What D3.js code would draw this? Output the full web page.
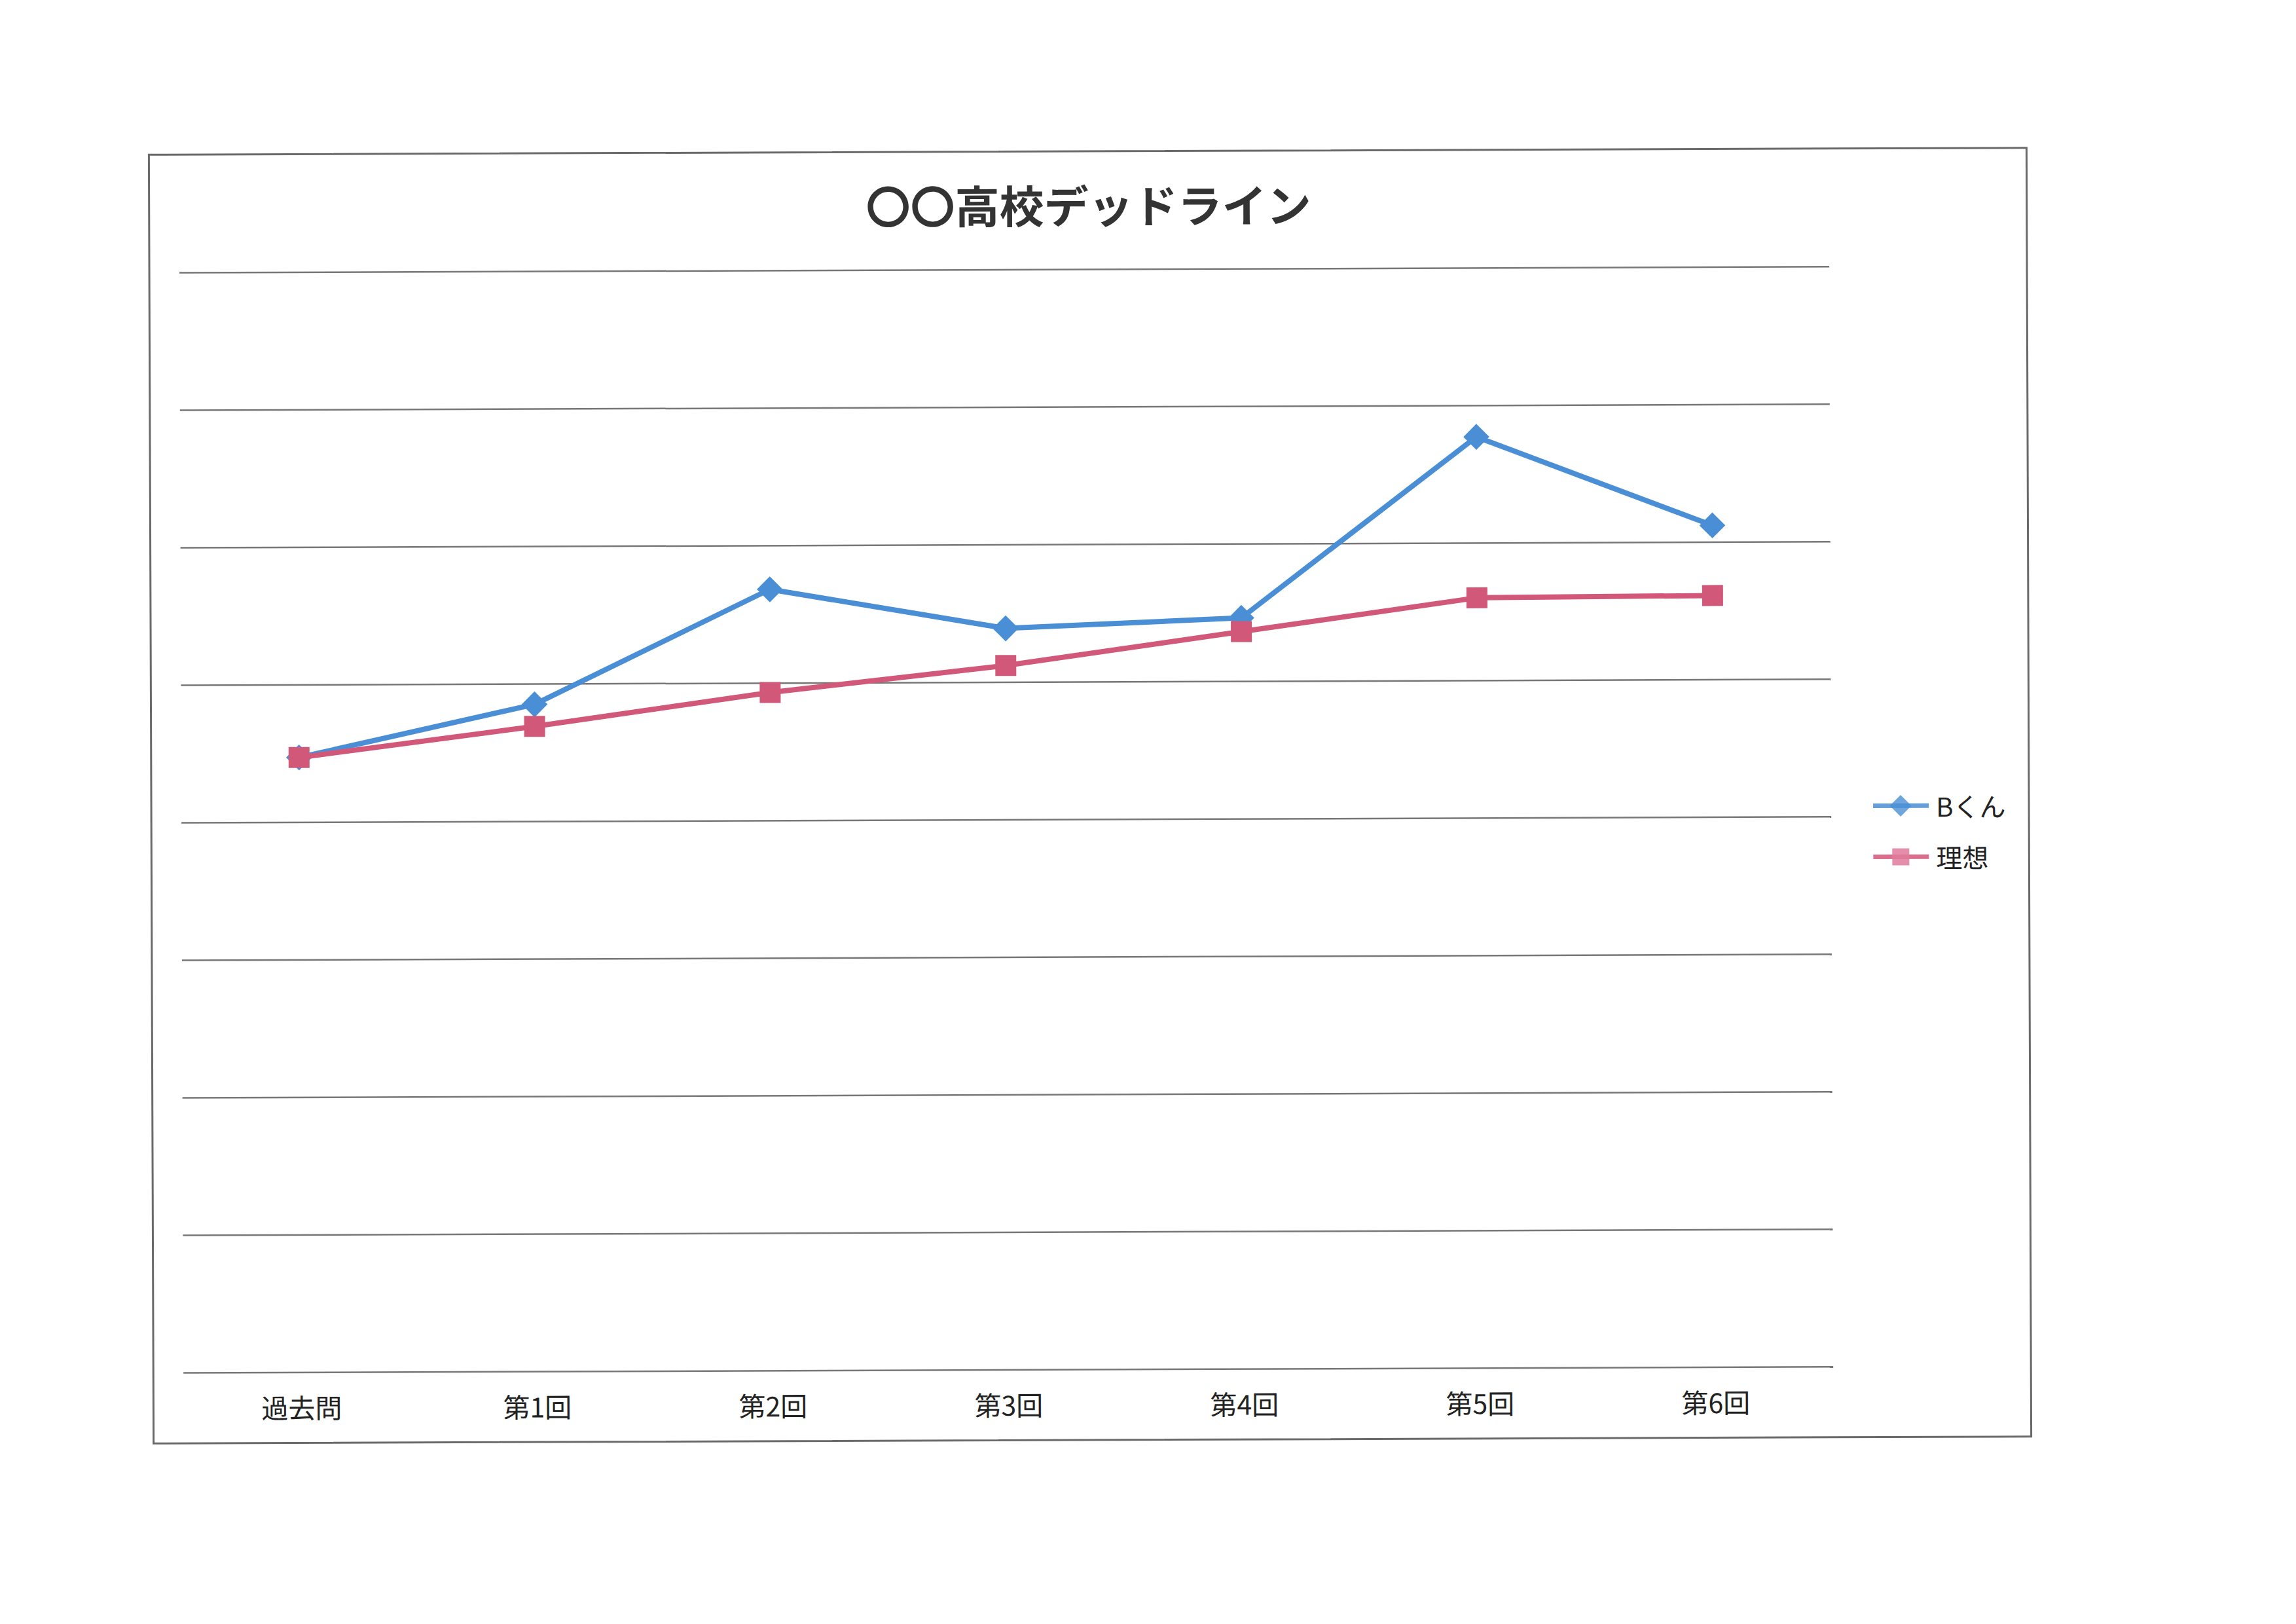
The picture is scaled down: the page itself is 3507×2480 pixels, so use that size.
<!DOCTYPE html>
<html lang="ja">
    <head>
        <meta charset="UTF-8" />
        <title>〇〇高校デッドライン</title>
        <script src="https://cdn.jsdelivr.net/npm/d3@7/dist/d3.min.js"></script>
        <style>
            body { margin: 0; padding: 0; background: #fff; }
            text { font-family: "Noto Sans CJK JP", "Noto Sans", sans-serif; }
        </style>
    </head>
    <body>
        <script>
            // データ
            const categories = ['過去問', '第1回', '第2回', '第3回', '第4回', '第5回', '第6回'];
            const seriesNames = ['Bくん', '理想'];
            const bkunValues = [44.7, 48.5, 56.8, 53.9, 54.6, 67.7, 61.2];
            const idealValues = [44.7, 46.9, 49.3, 51.2, 53.6, 56.0, 56.1];
            const yTicks = [0, 10, 20, 30, 40, 50, 60, 70, 80];

            const width = 3507;
            const height = 2480;
            const colors = ['#4a8fd5', '#d2587a'];

            const svg = d3
                .select('body')
                .append('svg')
                .attr('width', width)
                .attr('height', height)
                .style('background', '#fff');

            // スキャンのわずかな傾き
            const root = svg.append('g').attr('transform', 'rotate(-0.21, 1666, 1215)');

            // 外枠
            root.append('rect')
                .attr('x', 231)
                .attr('y', 231)
                .attr('width', 2868)
                .attr('height', 1968)
                .attr('fill', 'none')
                .attr('stroke', '#6a6a6a')
                .attr('stroke-width', 3);

            // タイトル
            root.append('text')
                .attr('x', 1666)
                .attr('y', 311)
                .attr('text-anchor', 'middle')
                .attr('dominant-baseline', 'central')
                .attr('font-size', 68)
                .attr('font-weight', 'bold')
                .attr('fill', '#333')
                .text('〇〇高校デッドライン');

            const plotLeft = 277;
            const plotRight = 2797;
            const x = d3.scalePoint().domain(categories).range([plotLeft, plotRight]).padding(0.5);
            const y = d3.scaleLinear().domain([0, 80]).range([2091, 411]);

            // 目盛り線
            const grid = root.append('g')
                .attr('transform', `translate(${plotLeft},0)`)
                .call(d3.axisLeft(y).tickValues(yTicks).tickSize(-(plotRight - plotLeft)).tickFormat(''));
            grid.select('.domain').remove();
            grid.selectAll('.tick line').attr('stroke', '#777').attr('stroke-width', 2.5);

            // 横軸ラベル
            const xAxis = root.append('g')
                .attr('transform', `translate(0,${y(0)})`)
                .call(d3.axisBottom(x).tickSize(0));
            xAxis.select('.domain').remove();
            xAxis.selectAll('text')
                .attr('y', 56)
                .attr('dy', '0.35em')
                .attr('font-size', 41)
                .attr('fill', '#222');

            const line = d3.line()
                .x((d, i) => x(categories[i]))
                .y(d => y(d));

            const series = [bkunValues, idealValues];
            const diamond = d3.symbol().type(d3.symbolDiamond2).size(1000);

            series.forEach((vals, s) => {
                const g = root.append('g');
                g.append('path')
                    .attr('d', line(vals))
                    .attr('fill', 'none')
                    .attr('stroke', colors[s])
                    .attr('stroke-width', 8)
                    .attr('stroke-linejoin', 'round');
                if (s === 0) {
                    g.selectAll('path.m')
                        .data(vals)
                        .join('path')
                        .attr('class', 'm')
                        .attr('d', diamond)
                        .attr('transform', (d, i) => `translate(${x(categories[i])},${y(d)})`)
                        .attr('fill', colors[s]);
                } else {
                    g.selectAll('rect')
                        .data(vals)
                        .join('rect')
                        .attr('x', (d, i) => x(categories[i]) - 16)
                        .attr('y', d => y(d) - 16)
                        .attr('width', 32)
                        .attr('height', 32)
                        .attr('fill', colors[s]);
                }
            });

            // 凡例
            const legendY = [1235, 1313];
            seriesNames.forEach((name, s) => {
                const lg = root.append('g').attr('transform', `translate(2861,${legendY[s]})`);
                lg.append('line')
                    .attr('x1', 0).attr('x2', 85)
                    .attr('stroke', colors[s])
                    .attr('stroke-width', 7)
                    .attr('opacity', 0.85);
                if (s === 0) {
                    lg.append('path')
                        .attr('d', d3.symbol().type(d3.symbolDiamond2).size(700))
                        .attr('transform', 'translate(42,0)')
                        .attr('fill', colors[s])
                        .attr('opacity', 0.8);
                } else {
                    lg.append('rect')
                        .attr('x', 29).attr('y', -13)
                        .attr('width', 26).attr('height', 26)
                        .attr('fill', '#e07a9c')
                        .attr('opacity', 0.85);
                }
                lg.append('text')
                    .attr('x', 96)
                    .attr('dominant-baseline', 'central')
                    .attr('font-size', 40)
                    .attr('fill', '#222')
                    .text(name);
            });
        </script>
    </body>
</html>
